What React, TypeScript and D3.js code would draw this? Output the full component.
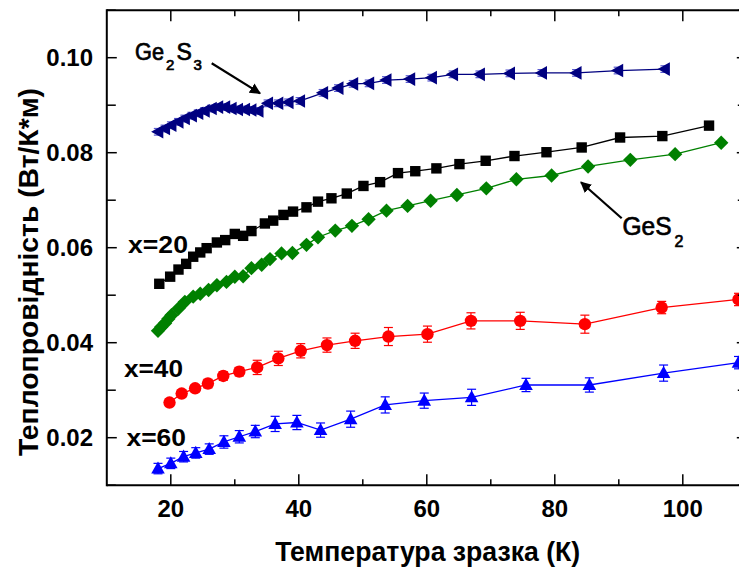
import React from "react";
import * as d3 from "d3";

// ---- data ----
const ge2s3T = [18.05, 19.1, 20.1, 21.2, 22.2, 23.3, 24.3, 25.3, 26.4, 27.4, 28.5, 29.5, 30.5, 31.6, 32.6, 33.7, 35.2, 36.8, 38.4, 40.2, 43.8, 46.2, 48.5, 51.0, 53.7, 57.4, 60.8, 64.1, 68.3, 73.0, 78.0, 83.4, 89.9, 97.2];
const ge2s3K = [0.0844, 0.0851, 0.0858, 0.0865, 0.0872, 0.0878, 0.0883, 0.0888, 0.0893, 0.0896, 0.0896, 0.0893, 0.0891, 0.0891, 0.0890, 0.0888, 0.0904, 0.0904, 0.0906, 0.0909, 0.0926, 0.0936, 0.0945, 0.0946, 0.0953, 0.0955, 0.0958, 0.0965, 0.0965, 0.0967, 0.0968, 0.0968, 0.0973, 0.0976];
const ge2s3Err = [0.0007, 0.0007, 0.0007, 0.0007, 0.0007, 0.0007, 0.0007, 0.0007, 0.0007, 0.0007, 0.0007, 0.0007, 0.0007, 0.0007, 0.0007, 0.0007, 0.0007, 0.0007, 0.0007, 0.0007, 0.0007, 0.0007, 0.0007, 0.0007, 0.0007, 0.0007, 0.0007, 0.0007, 0.0007, 0.0007, 0.0007, 0.0007, 0.0007, 0.0007];

const x20T = [18.2, 19.9, 21.2, 22.4, 23.5, 24.6, 25.6, 27.2, 28.5, 30.0, 31.3, 32.6, 34.7, 36.0, 37.6, 39.1, 41.2, 43.0, 45.1, 47.5, 50.1, 52.7, 55.5, 58.2, 61.5, 65.1, 69.2, 73.7, 78.7, 84.2, 90.2, 96.8, 104.1];
const x20K = [0.0524, 0.0539, 0.0554, 0.0566, 0.0581, 0.0590, 0.0599, 0.0611, 0.0616, 0.0629, 0.0625, 0.0635, 0.0651, 0.0657, 0.0669, 0.0676, 0.0685, 0.0697, 0.0704, 0.0714, 0.0730, 0.0738, 0.0757, 0.0761, 0.0767, 0.0776, 0.0783, 0.0793, 0.0801, 0.0811, 0.0832, 0.0835, 0.0857];

const ges2T = [18.0, 18.5, 19.1, 19.6, 20.1, 21.2, 22.2, 23.5, 24.6, 25.9, 27.2, 28.7, 30.0, 31.3, 32.6, 34.2, 35.5, 37.3, 39.0, 41.2, 43.0, 45.7, 48.3, 50.9, 53.7, 57.0, 60.6, 64.7, 69.3, 74.0, 79.5, 85.2, 91.8, 98.8, 106.0];
const ges2K = [0.0425, 0.0433, 0.0441, 0.0450, 0.0458, 0.0472, 0.0486, 0.0497, 0.0503, 0.0511, 0.0521, 0.0528, 0.0539, 0.0540, 0.0557, 0.0564, 0.0576, 0.0588, 0.0589, 0.0606, 0.0622, 0.0636, 0.0646, 0.0660, 0.0678, 0.0688, 0.0699, 0.0711, 0.0725, 0.0744, 0.0752, 0.0771, 0.0785, 0.0797, 0.0821];

const x40T = [19.8, 21.7, 23.8, 25.8, 28.2, 30.7, 33.5, 36.8, 40.3, 44.4, 48.8, 54.0, 60.1, 66.9, 74.6, 84.7, 96.7, 108.7];
const x40K = [0.0274, 0.0293, 0.0304, 0.0314, 0.0330, 0.0339, 0.0348, 0.0367, 0.0383, 0.0395, 0.0404, 0.0413, 0.0418, 0.0446, 0.0446, 0.0439, 0.0474, 0.0491];
const x40Err = [0.0007, 0.0007, 0.0007, 0.0009, 0.0009, 0.0009, 0.0015, 0.0015, 0.0015, 0.0015, 0.0016, 0.0019, 0.0017, 0.0017, 0.0018, 0.0019, 0.0013, 0.0013];

const x60T = [18.0, 20.0, 22.0, 23.9, 26.0, 28.3, 30.7, 33.2, 36.3, 39.7, 43.4, 48.1, 53.5, 59.6, 67.0, 75.5, 85.4, 97.0, 108.7];
const x60K = [0.0135, 0.0146, 0.0160, 0.0168, 0.0176, 0.0191, 0.0202, 0.0213, 0.0229, 0.0232, 0.0216, 0.0239, 0.0269, 0.0278, 0.0285, 0.0311, 0.0311, 0.0336, 0.0358];
const x60Err = [0.0011, 0.0011, 0.0011, 0.0011, 0.0011, 0.0013, 0.0013, 0.0013, 0.0016, 0.0015, 0.0015, 0.0017, 0.0017, 0.0016, 0.0017, 0.0014, 0.0015, 0.0017, 0.0013];

const xMajorTicks = [20, 40, 60, 80, 100];
const xMinorTicks = [30, 50, 70, 90, 110];
const yMajorTicks = [0.02, 0.04, 0.06, 0.08, 0.10];
const yMinorTicks = [0.01, 0.03, 0.05, 0.07, 0.09, 0.11];
const xTitle = "Температура зразка (К)";
const yTitle = "Теплопровідність (Вт/К*м)";

const W = 739;
const H = 567;
const FONT = "'Liberation Sans', Arial, sans-serif";

const x = d3.scaleLinear().domain([10, 110]).range([106.8, 746.8]);
const y = d3.scaleLinear().domain([0.01, 0.11]).range([485.2, 10.2]);

type Pt = { t: number; k: number; e?: number };
const zip = (t: number[], k: number[], e?: number[]): Pt[] => t.map((v, i) => ({ t: v, k: k[i], e: e ? e[i] : undefined }));

const line = d3.line<Pt>().x((d) => x(d.t)).y((d) => y(d.k));

function Marker({ shape, cx, cy, color }: { shape: string; cx: number; cy: number; color: string }) {
  if (shape === "square") return <rect x={cx - 5.2} y={cy - 5.2} width={10.4} height={10.4} fill={color} />;
  if (shape === "diamond") return <polygon points={`${cx},${cy - 7.2} ${cx + 7.2},${cy} ${cx},${cy + 7.2} ${cx - 7.2},${cy}`} fill={color} />;
  if (shape === "circle") return <circle cx={cx} cy={cy} r={6.2} fill={color} />;
  if (shape === "up") return <polygon points={`${cx},${cy - 7.2} ${cx + 6.8},${cy + 5} ${cx - 6.8},${cy + 5}`} fill={color} />;
  if (shape === "left") return <polygon points={`${cx - 7.2},${cy} ${cx + 5},${cy - 6.8} ${cx + 5},${cy + 6.8}`} fill={color} />;
  return null;
}

function Series({ data, color, shape, errColor }: { data: Pt[]; color: string; shape: string; errColor?: string }) {
  return (
    <g>
      <path d={line(data) || ""} fill="none" stroke={color} strokeWidth={1.3} />
      {data.map((d, i) =>
        d.e !== undefined ? (
          <g key={"e" + i} stroke={errColor || color} strokeWidth={1.2}>
            <line x1={x(d.t)} x2={x(d.t)} y1={y(d.k - d.e)} y2={y(d.k + d.e)} />
            <line x1={x(d.t) - 4.5} x2={x(d.t) + 4.5} y1={y(d.k - d.e)} y2={y(d.k - d.e)} />
            <line x1={x(d.t) - 4.5} x2={x(d.t) + 4.5} y1={y(d.k + d.e)} y2={y(d.k + d.e)} />
          </g>
        ) : null
      )}
      {data.map((d, i) => (
        <Marker key={i} shape={shape} cx={x(d.t)} cy={y(d.k)} color={color} />
      ))}
    </g>
  );
}

export default function App() {
  const [x0, x1] = x.range();
  const [y0, y1] = y.range();
  return (
    <svg width={W} height={H} style={{ position: "fixed", left: 0, top: 0, background: "#fff" }} fontFamily={FONT}>
      <defs>
        <marker id="arr" viewBox="0 0 10 10" refX="9" refY="5" markerWidth="5" markerHeight="5" orient="auto" markerUnits="strokeWidth">
          <path d="M0,0 L10,5 L0,10 z" fill="#000" />
        </marker>
      </defs>
      <rect x={0} y={0} width={W} height={H} fill="#fff" />

      <Series data={zip(ge2s3T, ge2s3K, ge2s3Err)} color="#000080" errColor="#5a5ad0" shape="left" />
      <Series data={zip(x20T, x20K)} color="#000000" shape="square" />
      <Series data={zip(ges2T, ges2K)} color="#008000" shape="diamond" />
      <Series data={zip(x40T, x40K, x40Err)} color="#ff0000" shape="circle" />
      <Series data={zip(x60T, x60K, x60Err)} color="#0000ff" shape="up" />

      {/* frame */}
      <g stroke="#000" strokeWidth={2} fill="none">
        <line x1={x0} x2={x1} y1={y0} y2={y0} />
        <line x1={x0} x2={x1} y1={y1} y2={y1} />
        <line x1={x0} x2={x0} y1={y0 + 1} y2={y1 - 1} />
        <line x1={x1} x2={x1} y1={y0 + 1} y2={y1 - 1} />
      </g>
      {/* ticks */}
      <g stroke="#000" strokeWidth={1.5}>
        {xMajorTicks.map((t) => (
          <g key={"xM" + t}>
            <line x1={x(t)} x2={x(t)} y1={y0} y2={y0 - 11} />
            <line x1={x(t)} x2={x(t)} y1={y1} y2={y1 + 11} />
          </g>
        ))}
        {xMinorTicks.map((t) => (
          <g key={"xm" + t}>
            <line x1={x(t)} x2={x(t)} y1={y0} y2={y0 - 6} />
            <line x1={x(t)} x2={x(t)} y1={y1} y2={y1 + 6} />
          </g>
        ))}
        {yMajorTicks.map((v) => (
          <g key={"yM" + v}>
            <line x1={x0} x2={x0 + 10} y1={y(v)} y2={y(v)} />
            <line x1={x1} x2={x1 - 10} y1={y(v)} y2={y(v)} />
          </g>
        ))}
        {yMinorTicks.map((v) => (
          <g key={"ym" + v}>
            <line x1={x0} x2={x0 + 9} y1={y(v)} y2={y(v)} />
            <line x1={x1} x2={x1 - 9} y1={y(v)} y2={y(v)} />
          </g>
        ))}
      </g>
      {/* tick labels */}
      <g fontSize={24} fontWeight="bold" fill="#000">
        {xMajorTicks.map((t) => (
          <text key={"xl" + t} x={x(t)} y={516.7} textAnchor="middle">{t}</text>
        ))}
        {yMajorTicks.map((v) => (
          <text key={"yl" + v} x={93} y={y(v) + 8.6} textAnchor="end">{v.toFixed(2)}</text>
        ))}
      </g>
      {/* axis titles */}
      <text x={427.7} y={561} textAnchor="middle" fontSize={28} fontWeight="bold" textLength={305} lengthAdjust="spacingAndGlyphs">{xTitle}</text>
      <text transform="translate(38,272) rotate(-90)" textAnchor="middle" fontSize={27} fontWeight="bold" textLength={368} lengthAdjust="spacingAndGlyphs">{yTitle}</text>

      {/* annotations */}
      <g fontWeight="bold" fill="#000">
        <text x={128} y={253} fontSize={24} textLength={60} lengthAdjust="spacingAndGlyphs">x=20</text>
        <text x={124} y={377} fontSize={24} textLength={59} lengthAdjust="spacingAndGlyphs">x=40</text>
        <text x={126.5} y={445.7} fontSize={24} textLength={59.5} lengthAdjust="spacingAndGlyphs">x=60</text>
      </g>
      <g fontWeight="normal" fill="#000" stroke="#000" strokeWidth={0.7}>
        <text x={135} y={60} fontSize={23} textLength={29} lengthAdjust="spacingAndGlyphs">Ge</text>
        <text x={166} y={70} fontSize={15}>2</text>
        <text x={176.5} y={60} fontSize={23}>S</text>
        <text x={193.5} y={70} fontSize={15}>3</text>
        <text x={622.5} y={235} fontSize={25} textLength={49} lengthAdjust="spacingAndGlyphs">GeS</text>
        <text x={674.5} y={246.7} fontSize={16}>2</text>
      </g>
      <line x1={211.7} y1={63.3} x2={260} y2={93.3} stroke="#000" strokeWidth={2.2} markerEnd="url(#arr)" />
      <line x1={621.7} y1={218.3} x2={581} y2={182.3} stroke="#000" strokeWidth={2.2} markerEnd="url(#arr)" />
    </svg>
  );
}
